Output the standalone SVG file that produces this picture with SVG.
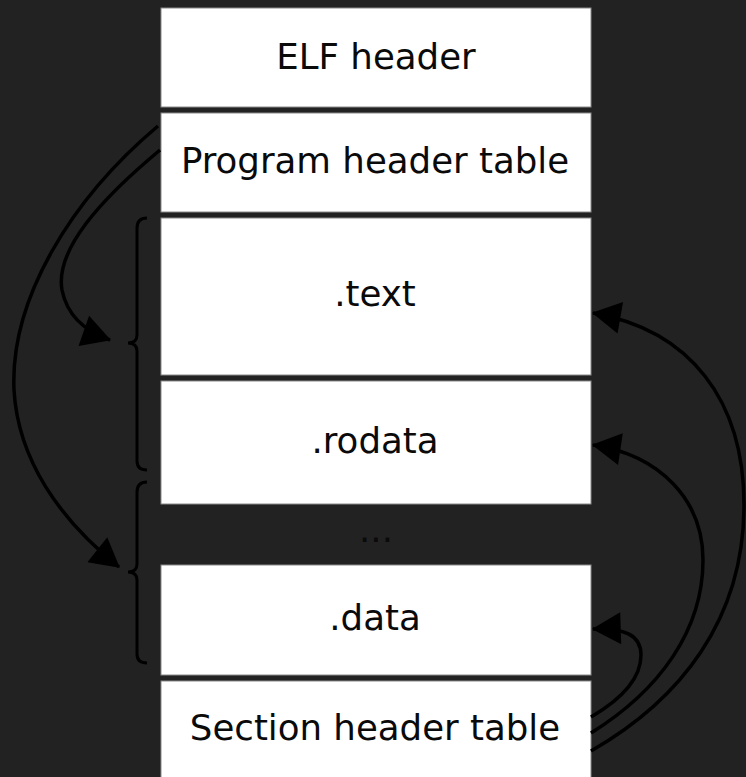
<svg xmlns="http://www.w3.org/2000/svg" width="746" height="777" viewBox="0 0 746 777">
<style>
.box{fill:#ffffff;stroke:#8a8a8a;stroke-width:1}
.lbl{font-family:"DejaVu Sans",sans-serif;font-size:35.6px;fill:#0a0a0a;text-anchor:middle}
.conn{fill:none;stroke:#000000;stroke-width:3.5}
.brace{fill:none;stroke:#000000;stroke-width:3}
</style>
<defs>
<marker id="arr" markerUnits="userSpaceOnUse" markerWidth="30" markerHeight="32" viewBox="0 0 27 30" refX="26" refY="15" orient="auto">
<path d="M0,0 L27,15 L0,30 z" fill="#000000"/>
</marker>
</defs>
<rect width="746" height="777" fill="#222222"/>
<g id="elf-header"><rect class="box" x="161" y="8" width="430" height="99"/><text class="lbl" x="376" y="69">ELF header</text></g>
<g id="program-header-table"><rect class="box" x="161" y="113" width="430" height="99"/><text class="lbl" x="375" y="173">Program header table</text></g>
<g id="text"><rect class="box" x="161" y="218" width="430" height="157"/><text class="lbl" x="375" y="306">.text</text></g>
<g id="rodata"><rect class="box" x="161" y="381" width="430" height="123"/><text class="lbl" x="375" y="453">.rodata</text></g>
<g id="ellipsis"><text class="lbl" x="376" y="542">...</text></g>
<g id="data"><rect class="box" x="161" y="565" width="430" height="110"/><text class="lbl" x="375" y="630">.data</text></g>
<g id="section-header-table"><rect class="box" x="161" y="681" width="430" height="110"/><text class="lbl" x="375" y="740">Section header table</text></g>
<g id="braces">
<path class="brace" d="M147,218 Q137,218 137,228 L137,335 Q137,343 128,343 Q137,343 137,351 L137,461 Q137,470 147,470"/>
<path class="brace" d="M147,482 Q137,482 137,492 L137,564 Q137,572 128,572 Q137,572 137,580 L137,654 Q137,663 147,663"/>
</g>
<g id="connectors">
<path class="conn" marker-end="url(#arr)" d="M158,126 C70,200 10,300 14,390 C18,460 60,520 119,567"/>
<path class="conn" marker-end="url(#arr)" d="M160,150 C100,200 55,250 62,290 C68,320 90,333 110,340"/>
<path class="conn" marker-end="url(#arr)" d="M591,751 C680,700 744,620 744,505 C744,400 690,330 593,313"/>
<path class="conn" marker-end="url(#arr)" d="M591,733 C660,690 703,630 703,560 C703,500 660,455 593,445"/>
<path class="conn" marker-end="url(#arr)" d="M591,717 C620,700 641,680 641,655 C641,635 625,628 593,629"/>
</g>
</svg>
